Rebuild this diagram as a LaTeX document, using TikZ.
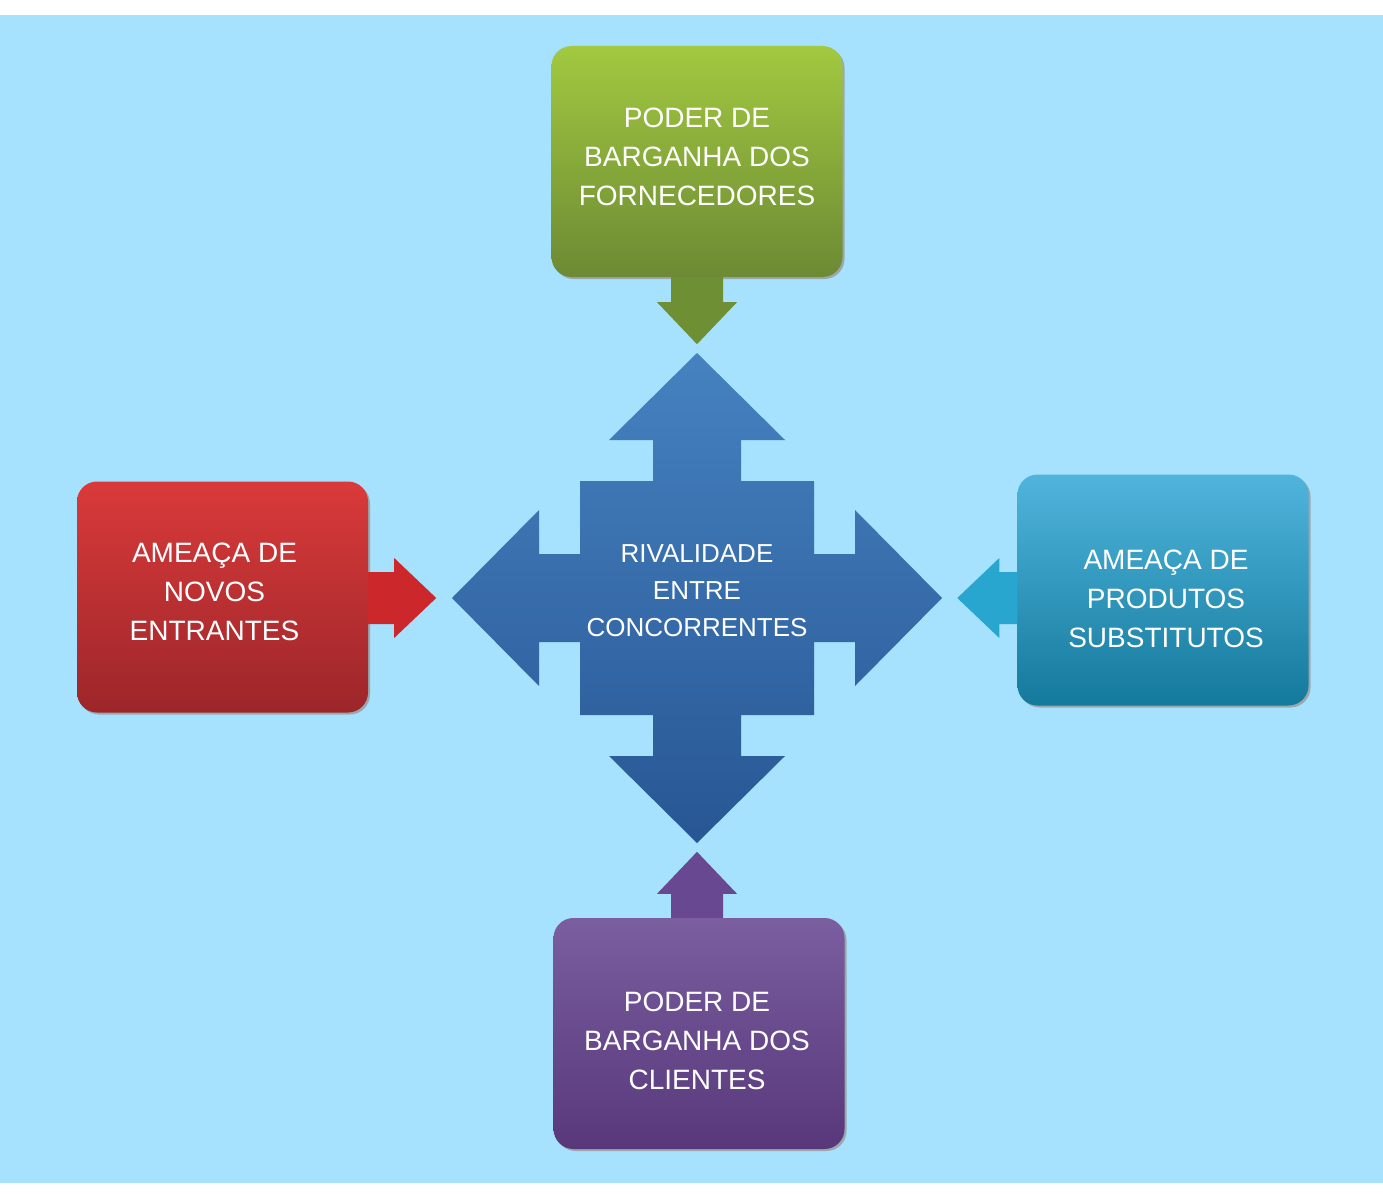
\documentclass[tikz,border=0pt]{standalone}
\usepackage{fontspec}
\setmainfont{Liberation Sans}
\usetikzlibrary{calc,shadows}

\definecolor{fundo}{RGB}{166,225,253}
\definecolor{verdeA}{RGB}{162,201,64}
\definecolor{verdeB}{RGB}{140,184,48}
\definecolor{verdeC}{RGB}{108,138,52}
\definecolor{vermA}{RGB}{218,58,58}
\definecolor{vermB}{RGB}{204,40,44}
\definecolor{vermC}{RGB}{156,38,42}
\definecolor{cianoA}{RGB}{80,180,220}
\definecolor{cianoB}{RGB}{40,166,208}
\definecolor{cianoC}{RGB}{20,122,156}
\definecolor{roxoA}{RGB}{122,94,160}
\definecolor{roxoB}{RGB}{104,72,144}
\definecolor{roxoC}{RGB}{88,56,122}
\definecolor{azulA}{RGB}{70,130,192}
\definecolor{azulC}{RGB}{40,86,148}

\tikzset{
  forca/.style={rounded corners=20pt, minimum width=291pt, minimum height=231pt,
    drop shadow={shadow xshift=2pt, shadow yshift=-2pt, fill=gray!80, opacity=.8}},
  rotulo/.style={text=white, align=center, font=\fontsize{28}{39}\selectfont},
}
% seta pequena que sai da caixa, desenhada para baixo e girada
\newcommand{\bloco}[4]{\fill[#3, shift={(#1)}, rotate=#2]
  (-26,0) -- (-26,#4) -- (-40,#4) -- (0,#4+42) -- (40,#4) -- (26,#4) -- (26,0) -- cycle;}

\begin{document}
\begin{tikzpicture}[x=1pt,y=-1pt]
  \useasboundingbox (0,0) rectangle (1383,1198);
  \fill[white] (0,0) rectangle (1383,1198);
  \fill[fundo] (0,15) rectangle (1383,1183);

  % seta central de quatro pontas
  \coordinate (c) at (697,598);
  \shade[top color=azulA, bottom color=azulC, shift={(c)}]
    (0,-245) -- (88,-158) -- (44,-158) -- (44,-117) -- (117,-117) -- (117,-44)
    -- (158,-44) -- (158,-88) -- (245,0) -- (158,88) -- (158,44) -- (117,44)
    -- (117,117) -- (44,117) -- (44,158) -- (88,158) -- (0,245) -- (-88,158)
    -- (-44,158) -- (-44,117) -- (-117,117) -- (-117,44) -- (-158,44) -- (-158,88)
    -- (-245,0) -- (-158,-88) -- (-158,-44) -- (-117,-44) -- (-117,-117)
    -- (-44,-117) -- (-44,-158) -- (-88,-158) -- cycle;
  \node[text=white, align=center, font=\fontsize{26}{37}\selectfont] (riv) at (697,591)
    {RIVALIDADE\\ENTRE\\CONCORRENTES};

  \node[forca, top color=verdeA, middle color=verdeB, bottom color=verdeC,
    label={[rotulo, yshift=5pt]center:PODER DE\\BARGANHA DOS\\FORNECEDORES}] (forn) at (697,161.5) {};
  \node[forca, top color=vermA, middle color=vermB, bottom color=vermC,
    label={[rotulo, xshift=-8pt, yshift=5pt]center:AMEAÇA DE\\NOVOS\\ENTRANTES}] (entr) at (222.5,597) {};
  \node[forca, top color=cianoA, middle color=cianoB, bottom color=cianoC,
    label={[rotulo, xshift=3pt, yshift=-9pt]center:AMEAÇA DE\\PRODUTOS\\SUBSTITUTOS}] (subs) at (1163,590) {};
  \node[forca, top color=roxoA, middle color=roxoB, bottom color=roxoC,
    label={[rotulo, xshift=-2pt, yshift=-7pt]center:PODER DE\\BARGANHA DOS\\CLIENTES}] (clie) at (699,1033.5) {};

  \bloco{forn.south}{0}{verdeC!90!verdeB}{25}
  \bloco{$(entr.east)+(0,1)$}{90}{vermB}{26}
  \bloco{subs.west |- c}{-90}{cianoB}{18}
  \bloco{$(clie.north)+(-2,0)$}{180}{roxoB}{24}
\end{tikzpicture}
\end{document}
